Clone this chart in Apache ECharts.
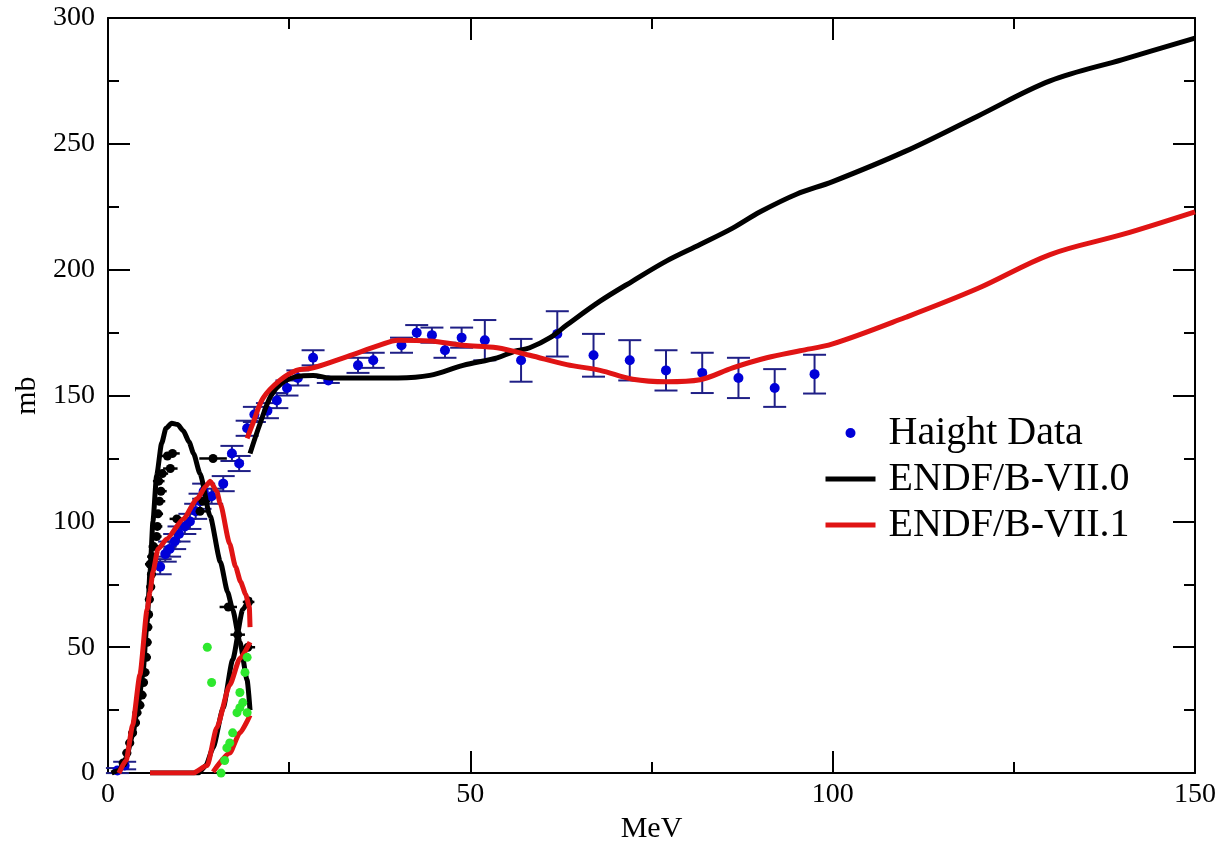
<!DOCTYPE html>
<html>
<head>
<meta charset="utf-8">
<script src="https://cdn.jsdelivr.net/npm/echarts/dist/echarts.min.js"></script>
<style>
  html, body { margin: 0; padding: 0; background: #fff; }
  #chart { width: 1221px; height: 849px; }
</style>
</head>
<body>
<div id="chart"></div>
<script>
// Axis ticks
const xTicks = [0, 50, 100, 150];
const yTicks = [0, 50, 100, 150, 200, 250, 300];

// Haight measurements: [MeV, mb, y half-error]
const haightData = [
  [1.3, 1, 1], [2.3, 3, 1.5],
  [7.2, 82, 3], [7.9, 87, 3], [8.5, 89, 3], [9.2, 92, 3], [9.8, 95, 3],
  [10.6, 98, 3], [11.3, 100, 3], [12.1, 104, 3], [12.7, 108, 3], [13.2, 112, 3],
  [14.3, 110, 3], [15.9, 115, 3], [17.1, 127, 3], [18.1, 123, 3],
  [19.2, 137, 3], [20.2, 142.5, 3], [22.0, 144, 3], [23.3, 148, 3],
  [24.7, 153, 3], [26.2, 157, 3],
  [28.3, 165, 3], [30.4, 156, 1], [34.5, 162, 3], [36.6, 164, 3],
  [40.5, 170, 3], [42.6, 175, 3], [44.7, 174, 3], [46.5, 168, 3],
  [48.8, 173, 4], [52.0, 172, 8], [57.0, 164, 8.5], [62.0, 174.5, 9],
  [67.0, 166, 8.5], [72.0, 164, 8], [77.0, 160, 8], [82.0, 159, 8],
  [87.0, 157, 8], [92.0, 153, 7.5], [97.5, 158.5, 7.7]
];

// Other low-energy measurements: [MeV, mb, x half-error]
const otherBlackData = [
  [2.1, 4, 0.6], [2.6, 8, 0.6], [3.0, 12, 0.6], [3.4, 16, 0.6], [3.8, 20, 0.6],
  [4.0, 24, 0.6], [4.4, 27, 0.6], [4.7, 31, 0.6], [4.9, 36, 0.6], [5.1, 40, 0.6],
  [5.3, 46, 0.6], [5.4, 52, 0.6], [5.5, 58, 0.6], [5.6, 63, 0.6], [5.7, 69, 0.6],
  [5.9, 74, 0.6], [6.0, 79, 0.6], [5.8, 83, 0.7], [6.1, 86, 0.7], [6.3, 90, 0.7],
  [6.7, 94, 0.7], [6.8, 98, 0.7], [6.9, 103, 0.7], [7.1, 108, 0.8], [7.3, 112, 0.8],
  [7.0, 116, 0.8], [7.5, 119, 0.8], [8.6, 121, 1], [8.2, 126, 1], [8.9, 127, 1],
  [9.5, 101, 1], [12.7, 104, 1], [13.1, 108, 1], [14.5, 125, 1.9],
  [16.6, 66, 1.2], [17.9, 55, 1], [19.3, 50, 1], [19.4, 68, 0.8]
];

// Other measurements without error bars: [MeV, mb]
const greenData = [
  [13.7, 50], [14.3, 36], [15.6, 0], [16.1, 5], [16.4, 10], [16.8, 12],
  [17.2, 16], [17.8, 24], [18.2, 26], [18.2, 32], [18.9, 40], [19.2, 46],
  [19.2, 24], [18.6, 28]
];

// ENDF/B-VII.0 evaluation, drawn as separate pieces
const endf70A = [
  [0.5, 0], [1.5, 1], [2.5, 6], [3.4, 15], [4.2, 28], [4.8, 39], [5.4, 60],
  [5.8, 80], [6.2, 100], [6.7, 118], [7.4, 131], [8.0, 137], [8.8, 139],
  [9.6, 138.5], [10.4, 136], [11.2, 131.5], [11.8, 127], [12.7, 119],
  [14.1, 102], [15.5, 84], [16.5, 72], [17.2, 65], [18.2, 52], [19.2, 37], [19.6, 25]
];
const endf70B = [
  [5.8, 0], [12.5, 0], [13.5, 3], [14.5, 10], [15.9, 26], [17.2, 45],
  [18.6, 65], [19.6, 70]
];
const endf70C = [
  [19.6, 127], [21, 139], [22.5, 150], [24, 155], [26, 157.5], [28.3, 158],
  [30.6, 157], [35, 157], [40, 157], [44.4, 158], [49, 162], [53.7, 165],
  [56, 167.5], [58.2, 169], [61, 173], [63.3, 178], [67.9, 187.5], [72.4, 195.5],
  [77.1, 203.5], [81.7, 210], [86.2, 216.5], [90, 223], [95, 230], [100, 235],
  [110, 247], [120, 261], [130, 275], [140, 283.5], [150, 292]
];

// ENDF/B-VII.1 evaluation, drawn as separate pieces
const endf71A = [
  [1.5, 0], [2.5, 5], [3.4, 19], [4.4, 39], [5.4, 65], [5.8, 72], [6.2, 80],
  [6.9, 89], [8.1, 93], [10.4, 101], [12.3, 109], [13.5, 114], [14.1, 116],
  [15, 112], [15.5, 107], [16.8, 91], [17.6, 82], [18.3, 76], [19.0, 71],
  [19.5, 66], [19.6, 58]
];
const endf71B = [
  [5.8, 0], [11.7, 0], [13.7, 3], [15, 18], [16.8, 35], [18.2, 45.5], [19.6, 52]
];
const endf71C = [
  [14.5, 0.5], [16.8, 8], [18.2, 16], [19.6, 23]
];
const endf71D = [
  [19.2, 133], [20, 139], [21.4, 149], [23.7, 156], [26, 160], [28.3, 161],
  [33, 165.5], [37.5, 170], [40, 172], [44.4, 171.7], [49, 170], [53.7, 169],
  [58.2, 166], [63.3, 162.3], [67.9, 160], [72.4, 156.5], [77.1, 155.5],
  [81.7, 156.3], [86.2, 161], [90.9, 165], [95.5, 167.8], [100, 170.5],
  [110, 181], [120, 192.5], [130, 206], [140, 214], [150, 223]
];

const FONT = '"Liberation Serif", "DejaVu Serif", serif';
const RED = '#e01414';
const BLUE = '#0000d8';
const NAVY = '#1f1f86';

// Error bars: data items are [x, y, dx, dy]
function errorBars(color, capHalf, width) {
  return function (params, api) {
    const x = api.value(0), y = api.value(1), dx = api.value(2), dy = api.value(3);
    const style = { stroke: color, lineWidth: width };
    const children = [];
    if (dx > 0) {
      const a = api.coord([x - dx, y]), b = api.coord([x + dx, y]);
      children.push({ type: 'line', shape: { x1: a[0], y1: a[1], x2: b[0], y2: b[1] }, style });
    }
    if (dy > 0) {
      const a = api.coord([x, y - dy]), b = api.coord([x, y + dy]);
      children.push({ type: 'line', shape: { x1: a[0], y1: a[1], x2: b[0], y2: b[1] }, style });
      if (capHalf > 0) {
        [a, b].forEach(p => children.push({
          type: 'line', shape: { x1: p[0] - capHalf, y1: p[1], x2: p[0] + capHalf, y2: p[1] }, style
        }));
      }
    }
    return { type: 'group', children };
  };
}

// Low-energy pieces keep x-monotone smoothing; the long curves use plain smoothing
function curve(name, data, color, z, monotone) {
  const s = {
    name, type: 'line', data, symbol: 'none', showSymbol: false,
    smooth: monotone ? 0.2 : 0.35,
    lineStyle: { color, width: 5 }, itemStyle: { color },
    silent: true, animation: false, z
  };
  if (monotone) s.smoothMonotone = 'x';
  return s;
}

const axisCommon = {
  type: 'value',
  interval: 50,
  axisLine: { show: true, onZero: false, lineStyle: { color: '#000', width: 2 } },
  axisTick: { show: true, inside: true, length: 22, lineStyle: { color: '#000', width: 2 } },
  minorTick: { show: true, splitNumber: 2, length: 11, lineStyle: { color: '#000', width: 2 } },
  splitLine: { show: false },
  minorSplitLine: { show: false }
};

const chart = echarts.init(document.getElementById('chart'), null, { renderer: 'canvas' });

chart.setOption({
  animation: false,
  backgroundColor: '#fff',
  grid: { left: 108, right: 26, top: 18, bottom: 71, containLabel: false },
  legend: {
    orient: 'vertical',
    left: 818,
    top: 408,
    itemWidth: 50,
    itemHeight: 10,
    itemGap: 6,
    selectedMode: false,
    textStyle: { fontFamily: FONT, fontSize: 40, color: '#000', padding: [0, 0, 0, 8] },
    data: [
      { name: 'Haight Data', icon: 'circle', itemStyle: { color: BLUE } },
      { name: 'ENDF/B-VII.0', itemStyle: { opacity: 0 }, lineStyle: { width: 5, color: '#000' } },
      { name: 'ENDF/B-VII.1', itemStyle: { opacity: 0 }, lineStyle: { width: 5, color: RED } }
    ]
  },
  xAxis: [
    Object.assign({}, axisCommon, {
      min: xTicks[0], max: xTicks[xTicks.length - 1], position: 'bottom',
      name: 'MeV', nameLocation: 'middle', nameGap: 34,
      nameTextStyle: { fontFamily: FONT, fontSize: 30, color: '#000' },
      axisLabel: { fontFamily: FONT, fontSize: 28, color: '#000', margin: 8 }
    }),
    Object.assign({}, axisCommon, {
      min: xTicks[0], max: xTicks[xTicks.length - 1], position: 'top',
      axisLabel: { show: false }
    })
  ],
  yAxis: [
    Object.assign({}, axisCommon, {
      min: yTicks[0], max: yTicks[yTicks.length - 1], position: 'left',
      name: 'mb', nameLocation: 'middle', nameGap: 52, nameRotate: 90,
      nameTextStyle: { fontFamily: FONT, fontSize: 30, color: '#000' },
      axisLabel: { fontFamily: FONT, fontSize: 28, color: '#000', margin: 13 }
    }),
    Object.assign({}, axisCommon, {
      min: yTicks[0], max: yTicks[yTicks.length - 1], position: 'right',
      axisLabel: { show: false }
    })
  ],
  series: [
    {
      name: 'haight-errors', type: 'custom', silent: true,
      data: haightData.map(d => [d[0], d[1], 0, d[2]]),
      encode: { x: 0, y: 1 },
      renderItem: errorBars(NAVY, 11.5, 2), z: 2
    },
    {
      name: 'Haight Data', type: 'scatter', symbol: 'circle', symbolSize: 10,
      data: haightData.map(d => [d[0], d[1]]),
      itemStyle: { color: BLUE, opacity: 1 }, silent: true, z: 2
    },
    {
      name: 'other-errors', type: 'custom', silent: true,
      data: otherBlackData.map(d => [d[0], d[1], d[2], 0]),
      encode: { x: 0, y: 1 },
      renderItem: errorBars('#000', 0, 2.5), z: 2
    },
    {
      name: 'other-points', type: 'scatter', symbol: 'circle', symbolSize: 9,
      data: otherBlackData.map(d => [d[0], d[1]]),
      itemStyle: { color: '#000', opacity: 1 }, silent: true, z: 2
    },
    curve('ENDF/B-VII.0', endf70A, '#000', 3, true),
    curve('ENDF/B-VII.0', endf70B, '#000', 3, true),
    curve('ENDF/B-VII.0', endf70C, '#000', 3, false),
    curve('ENDF/B-VII.1', endf71A, RED, 4, true),
    curve('ENDF/B-VII.1', endf71B, RED, 4, true),
    curve('ENDF/B-VII.1', endf71C, RED, 4, true),
    curve('ENDF/B-VII.1', endf71D, RED, 4, false),
    {
      name: 'green-points', type: 'scatter', symbol: 'circle', symbolSize: 9,
      data: greenData,
      itemStyle: { color: '#2ee82e', opacity: 1 }, silent: true, z: 5
    }
  ]
});
</script>
</body>
</html>
